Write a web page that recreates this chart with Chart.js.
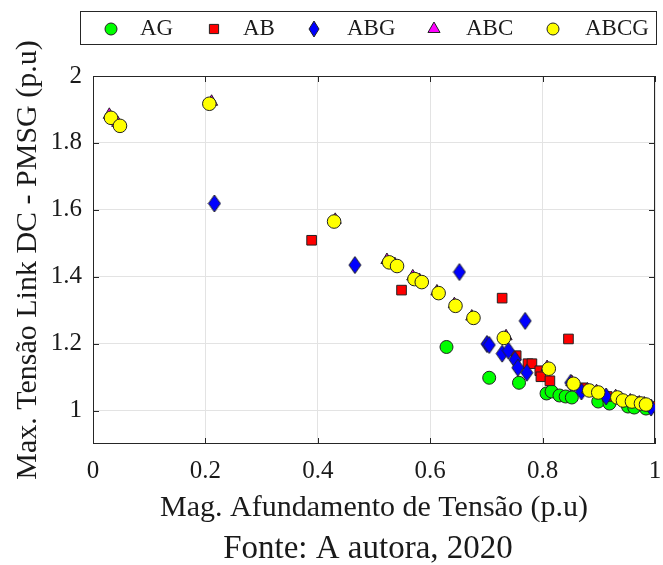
<!DOCTYPE html>
<html>
<head>
<meta charset="utf-8">
<script src="https://cdn.jsdelivr.net/npm/chart.js@4.4.0/dist/chart.umd.min.js"></script>
<style>
  html, body { margin: 0; padding: 0; background: #fff; }
  canvas { display: block; }
</style>
</head>
<body>
<canvas id="chart" width="663" height="565"></canvas>
<script>
/* ── data ─────────────────────────────────────────────── */
const seriesNames = ['AG', 'AB', 'ABG', 'ABC', 'ABCG'];

const agX = [0.629, 0.705, 0.758, 0.807, 0.816, 0.830, 0.841, 0.852, 0.899, 0.919, 0.952, 0.963, 0.984];
const agY = [1.190, 1.098, 1.083, 1.051, 1.057, 1.045, 1.042, 1.039, 1.027, 1.021, 1.012, 1.009, 1.006];

const abX = [0.389, 0.549, 0.728, 0.846, 0.753, 0.774, 0.781, 0.795, 0.797, 0.813, 0.871, 0.915, 0.961, 0.998];
const abY = [1.509, 1.360, 1.336, 1.214, 1.164, 1.140, 1.140, 1.119, 1.101, 1.089, 1.068, 1.042, 1.027, 1.012];

const abgX = [0.216, 0.466, 0.652, 0.769, 0.701, 0.705, 0.728, 0.739, 0.751, 0.756, 0.772, 0.850, 0.869, 0.913, 0.993];
const abgY = [1.619, 1.435, 1.414, 1.268, 1.199, 1.196, 1.170, 1.179, 1.152, 1.128, 1.113, 1.083, 1.057, 1.042, 1.009];

const abcX = [0.029, 0.044, 0.211, 0.431, 0.523, 0.537, 0.569, 0.581, 0.612, 0.643, 0.674, 0.735, 0.808, 0.852, 0.880, 0.896, 0.930, 0.940, 0.956, 0.972, 0.981];
const abcY = [1.884, 1.860, 1.923, 1.570, 1.450, 1.438, 1.401, 1.390, 1.356, 1.318, 1.281, 1.222, 1.130, 1.085, 1.063, 1.058, 1.043, 1.035, 1.030, 1.024, 1.021];

const abcgX = [0.032, 0.048, 0.207, 0.429, 0.527, 0.541, 0.572, 0.585, 0.615, 0.645, 0.677, 0.731, 0.811, 0.855, 0.883, 0.899, 0.933, 0.943, 0.959, 0.975, 0.984];
const abcgY = [1.875, 1.851, 1.917, 1.565, 1.443, 1.432, 1.393, 1.384, 1.351, 1.313, 1.277, 1.217, 1.125, 1.080, 1.060, 1.054, 1.039, 1.030, 1.027, 1.021, 1.018];

const xTicks = [0, 0.2, 0.4, 0.6, 0.8, 1];
const yTicks = [1, 1.2, 1.4, 1.6, 1.8, 2];

const xTitle  = 'Mag. Afundamento de Tensão (p.u)';
const yTitle  = 'Max. Tensão Link DC - PMSG (p.u)';
const caption = 'Fonte: A autora, 2020';

/* ── look ─────────────────────────────────────────────── */
const SERIF   = '"Liberation Serif", "Times New Roman", serif';
const INK     = '#1a1a1a';
const AXIS    = '#262626';
const GRID    = '#e3e3e3';
const EDGE    = '#222';

// MATLAB-like diamond (taller than wide)
function diamond(w, h, fill) {
  const c = document.createElement('canvas');
  c.width = w + 2; c.height = h + 2;
  const g = c.getContext('2d');
  g.beginPath();
  g.moveTo(c.width / 2, 1);
  g.lineTo(c.width - 1, c.height / 2);
  g.lineTo(c.width / 2, c.height - 1);
  g.lineTo(1, c.height / 2);
  g.closePath();
  g.fillStyle = fill; g.fill();
  g.lineWidth = 1; g.strokeStyle = EDGE; g.stroke();
  return c;
}
const blueDiamond = diamond(12, 17, '#0000ff');

const styles = [
  { color: '#00ff00', pointStyle: 'circle',    radius: 6.5 },
  { color: '#ff0000', pointStyle: 'rect',      radius: 6.8 },
  { color: '#0000ff', pointStyle: blueDiamond, radius: 7 },
  { color: '#ff00ff', pointStyle: 'triangle',  radius: 7 },
  { color: '#ffff00', pointStyle: 'circle',    radius: 6.8 },
];

const pts = (xs, ys) => xs.map((x, i) => ({ x, y: ys[i] }));
const series = [pts(agX, agY), pts(abX, abY), pts(abgX, abgY), pts(abcX, abcY), pts(abcgX, abcgY)];

/* ── frame, inward ticks, legend box, caption ─────────── */
const frame = {
  id: 'frame',
  beforeDatasetsDraw(chart) {
    const { ctx, chartArea: a, scales: { x, y } } = chart;
    ctx.save();
    ctx.strokeStyle = AXIS;
    ctx.lineWidth = 1;
    ctx.strokeRect(a.left + 0.5, a.top + 0.5, a.right - a.left - 1, a.bottom - a.top - 1);
    ctx.beginPath();
    xTicks.forEach(v => {
      const p = Math.round(x.getPixelForValue(v)) + 0.5;
      ctx.moveTo(p, a.bottom); ctx.lineTo(p, a.bottom - 6);
      ctx.moveTo(p, a.top);    ctx.lineTo(p, a.top + 6);
    });
    yTicks.forEach(v => {
      const p = Math.round(y.getPixelForValue(v)) + 0.5;
      ctx.moveTo(a.left, p);  ctx.lineTo(a.left + 6, p);
      ctx.moveTo(a.right, p); ctx.lineTo(a.right - 6, p);
    });
    ctx.stroke();
    ctx.restore();
  },
  afterDraw(chart) {
    const ctx = chart.ctx;
    ctx.save();
    // legend
    ctx.fillStyle = '#fff';
    ctx.fillRect(80, 11, 577, 34);
    ctx.strokeStyle = AXIS; ctx.lineWidth = 1;
    ctx.strokeRect(80.5, 11.5, 576, 33);
    const markX = [111, 214, 314, 434, 553];
    const textX = [140, 243, 347, 466, 585];
    const markR = [6, 6.5, 6, 7, 6];
    ctx.font = '23px ' + SERIF;
    ctx.textBaseline = 'middle';
    seriesNames.forEach((name, i) => {
      const s = styles[i];
      ctx.fillStyle = s.color; ctx.strokeStyle = EDGE; ctx.lineWidth = 1;
      const ps = i === 2 ? diamond(10, 16, s.color) : s.pointStyle;
      Chart.helpers.drawPoint(ctx, { pointStyle: ps, radius: markR[i], borderWidth: 1, rotation: 0 }, markX[i], 29);
      ctx.fillStyle = INK;
      ctx.fillText(name, textX[i], 29);
    });
    // caption
    ctx.font = '33px ' + SERIF;
    ctx.textAlign = 'center';
    ctx.textBaseline = 'alphabetic';
    ctx.fillStyle = INK;
    ctx.fillText(caption, 368, 558);
    ctx.restore();
  }
};

/* ── chart ────────────────────────────────────────────── */
new Chart(document.getElementById('chart'), {
  type: 'scatter',
  data: {
    datasets: series.map((data, i) => ({
      label: seriesNames[i],
      data,
      order: seriesNames.length - i,
      backgroundColor: styles[i].color,
      borderColor: EDGE,
      borderWidth: 1,
      pointStyle: styles[i].pointStyle,
      pointRadius: styles[i].radius,
      pointHoverRadius: styles[i].radius,
    })),
  },
  options: {
    responsive: false,
    animation: false,
    events: [],
    layout: { padding: { left: 0, right: 4, top: 76, bottom: 0 } },
    plugins: { legend: { display: false }, tooltip: { enabled: false } },
    scales: {
      x: {
        type: 'linear', min: 0, max: 1,
        afterBuildTicks: s => { s.ticks = xTicks.map(v => ({ value: v })); },
        afterFit: s => { s.height = 121; s.paddingLeft = 0; s.paddingRight = 0; },
        grid: { color: GRID, drawTicks: false },
        border: { display: false },
        ticks: {
          padding: 12, color: INK, maxRotation: 0,
          font: { family: SERIF, size: 25 },
          callback: v => String(+Number(v).toFixed(1)),
        },
        title: {
          display: true, text: xTitle, color: INK,
          font: { family: SERIF, size: 30 },
          padding: { top: 0, bottom: 39 },
        },
      },
      y: {
        type: 'linear', min: 0.9, max: 2,
        afterBuildTicks: s => { s.ticks = yTicks.map(v => ({ value: v })); },
        afterFit: s => { s.width = 93; s.paddingTop = 0; s.paddingBottom = 0; },
        grid: { color: GRID, drawTicks: false },
        border: { display: false },
        ticks: {
          padding: 11, color: INK,
          font: { family: SERIF, size: 25 },
          callback: v => String(+Number(v).toFixed(1)),
        },
        title: {
          display: true, text: yTitle, color: INK,
          font: { family: SERIF, size: 30 },
          padding: { top: 10, bottom: 0 },
        },
      },
    },
  },
  plugins: [frame],
});
</script>
</body>
</html>
